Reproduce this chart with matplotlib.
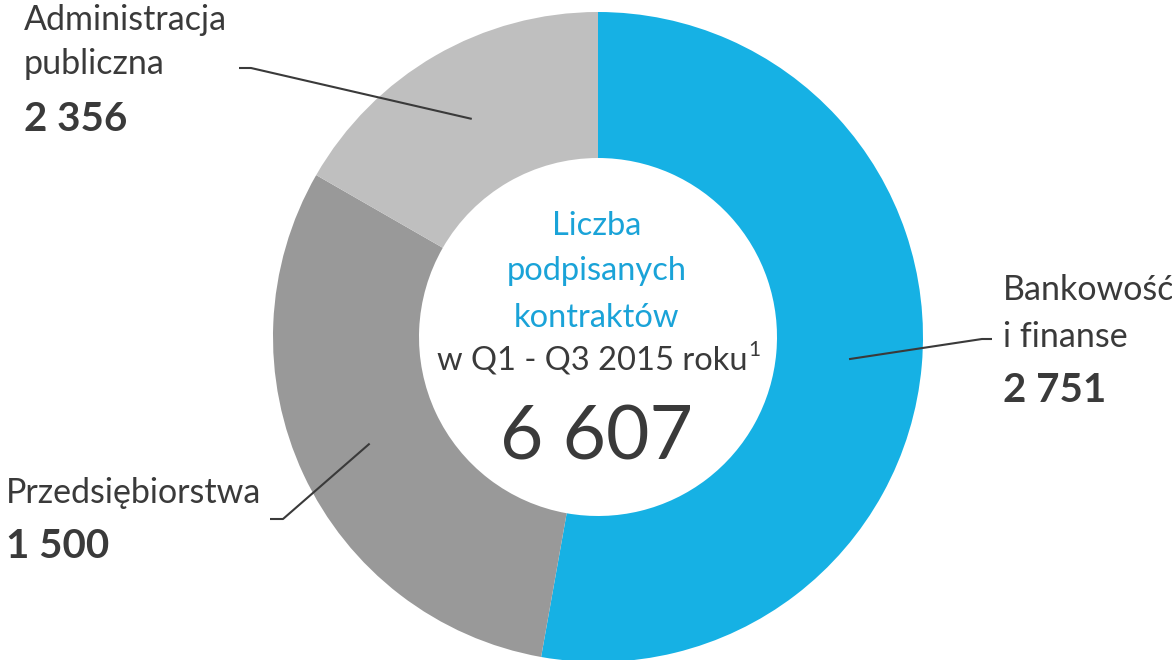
import matplotlib.pyplot as plt
import numpy as np

plt.rcParams['font.family'] = ['Lato', 'DejaVu Sans']

# dane z wykresu
categories = ['Bankowość\ni finanse', 'Przedsiębiorstwa', 'Administracja\npubliczna']
values = [2751, 1500, 2356]
# udział wycinków w % (rysunek nie jest proporcjonalny do liczb)
shares = [52.8, 30.5, 16.7]
center_lines = ['Liczba', 'podpisanych', 'kontraktów']
center_sub = 'w Q1 - Q3 2015 roku'
footnote = '1'

colors = ['#16B1E4', '#999999', '#BFBFBF']
text_color = '#3A3A3A'
blue_text = '#1AA3D8'

W, H = 1172, 660


def fmt(v):
    return f"{v:,}".replace(',', ' ')


def py(y):
    # pixel y (od góry) -> y w danych
    return H - y


fig = plt.figure(figsize=(W / 100, H / 100), dpi=100)
ax = fig.add_axes([0, 0, 1, 1])

cx, cy, R, ring = 598, py(337), 325, 146
wedges, _ = ax.pie(shares, colors=colors, startangle=90, counterclock=False,
                   radius=R, center=(cx, cy), frame=True,
                   wedgeprops=dict(width=ring, linewidth=0))
ax.set_xlim(0, W)
ax.set_ylim(0, H)
ax.set_aspect('equal')
ax.axis('off')

# pozycje etykiet: x tekstu, linie bazowe, kolanko i koniec linii
layout = [
    dict(x=1003, base=[300, 347], val=402, elbow=(982, 339), end=(992, 339)),
    dict(x=6, base=[503], val=558, elbow=(283, 519), end=(270, 519)),
    dict(x=24, base=[30, 74], val=131, elbow=(251, 68), end=(239, 68)),
]

for w, cat, v, lay in zip(wedges, categories, values, layout):
    ang = np.deg2rad((w.theta1 + w.theta2) / 2)
    r_mid = R - ring / 2
    x0, y0 = cx + r_mid * np.cos(ang), cy + r_mid * np.sin(ang)
    xs = [x0, lay['elbow'][0], lay['end'][0]]
    ys = [y0, py(lay['elbow'][1]), py(lay['end'][1])]
    ax.plot(xs, ys, color=text_color, lw=1.5, solid_capstyle='butt')
    for line, b in zip(cat.split('\n'), lay['base']):
        ax.text(lay['x'], py(b), line, fontsize=24.5, color=text_color,
                ha='left', va='baseline')
    ax.text(lay['x'], py(lay['val']), fmt(v), fontsize=29, fontweight='bold',
            color=text_color, ha='left', va='baseline')

# tekst w środku
for line, b in zip(center_lines, [235, 280, 327]):
    ax.text(597, py(b), line, fontsize=23.5, color=blue_text, ha='center', va='baseline')
sub = ax.text(592, py(369), center_sub, fontsize=23.5, color=text_color,
              ha='center', va='baseline')
fig.canvas.draw()
bb = sub.get_window_extent()
ax.text(bb.x1 + 1, py(369) + 13, footnote, fontsize=15, color=text_color,
        ha='left', va='baseline')
ax.text(597, py(460), fmt(sum(values)), fontsize=54, color=text_color,
        ha='center', va='baseline')

fig.savefig('out.png', dpi=100)
